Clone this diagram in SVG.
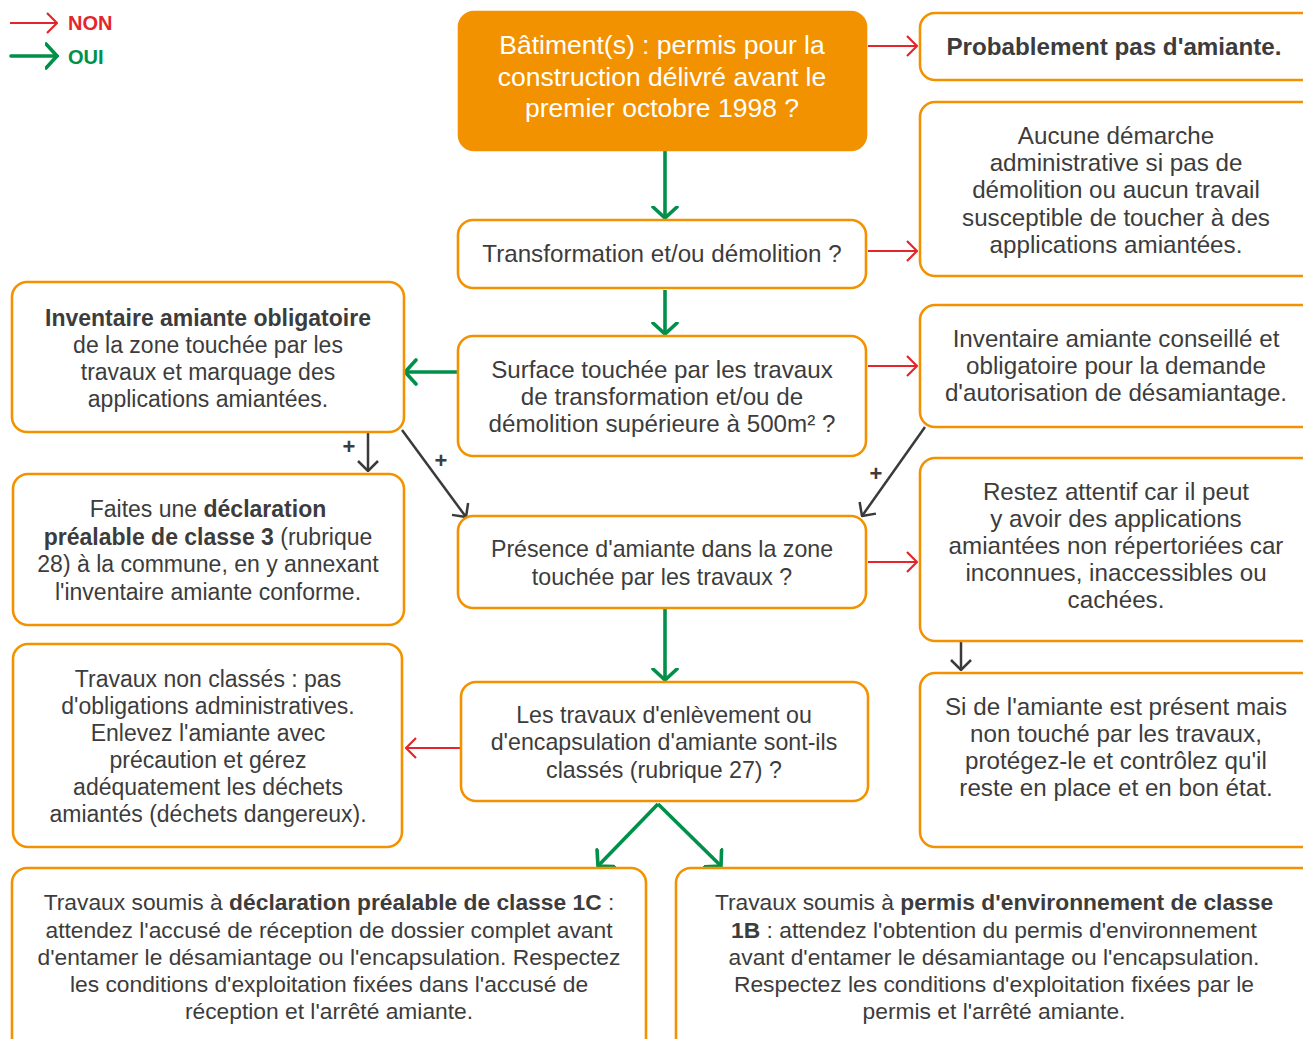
<svg xmlns="http://www.w3.org/2000/svg" width="1303" height="1039" viewBox="0 0 1303 1039">
<defs>
<style>
.box{fill:#fff;stroke:#F39200;stroke-width:2.6}
.fill{fill:#F39200;stroke:#F39200;stroke-width:2.6}
.t{font-family:"Liberation Sans",Arial,sans-serif;font-size:22px;fill:#3c3c3c;text-anchor:middle}
.tw{font-family:"Liberation Sans",Arial,sans-serif;font-size:26.5px;fill:#fff;text-anchor:middle}
.b{font-weight:bold}
.s24 .t{font-size:24.2px}
.s23 .t{font-size:23.2px}
.s23b .t{font-size:23px}
.s22 .t{font-size:22.8px}
.red{stroke:#E3262B;stroke-width:2.2;fill:none}
.green{stroke:#00904A;stroke-width:3.6;fill:none}
.gray{stroke:#3a3a3a;stroke-width:2.5;fill:none}
</style>
<marker id="mr" viewBox="0 0 12 24" refX="11" refY="12" markerWidth="12" markerHeight="24" markerUnits="userSpaceOnUse" orient="auto">
<path d="M1,2 L11,12 L1,22" fill="none" stroke="#E3262B" stroke-width="2.2"/>
</marker>
<marker id="mg" viewBox="0 0 14 28" refX="12.5" refY="14" markerWidth="14" markerHeight="28" markerUnits="userSpaceOnUse" orient="auto">
<path d="M1.5,2 L12.5,14 L1.5,26" fill="none" stroke="#00904A" stroke-width="3.6" stroke-linecap="round"/>
</marker>
<marker id="mk" viewBox="0 0 12 24" refX="11" refY="12" markerWidth="12" markerHeight="24" markerUnits="userSpaceOnUse" orient="auto">
<path d="M1,2 L11,12 L1,22" fill="none" stroke="#3a3a3a" stroke-width="2.5"/>
</marker>
</defs>
<rect width="1303" height="1039" fill="#fff"/>

<g id="legend">
<line class="red" x1="10" y1="23" x2="57" y2="23" marker-end="url(#mr)"/>
<text x="68" y="30" font-family="Liberation Sans,Arial,sans-serif" font-size="20" font-weight="bold" fill="#E3262B">NON</text>
<line class="green" x1="11" y1="56" x2="57" y2="56" marker-end="url(#mg)" stroke-linecap="round"/>
<text x="68" y="64" font-family="Liberation Sans,Arial,sans-serif" font-size="20" font-weight="bold" fill="#00904A">OUI</text>
</g>

<g id="connectors">
<line class="green" x1="665" y1="150" x2="665" y2="218" marker-end="url(#mg)"/>
<line class="green" x1="665" y1="290" x2="665" y2="334" marker-end="url(#mg)"/>
<line class="green" x1="458" y1="372" x2="405" y2="372" marker-end="url(#mg)"/>
<line class="green" x1="665" y1="609" x2="665" y2="680" marker-end="url(#mg)"/>
<line class="green" x1="658" y1="804" x2="598" y2="866" marker-end="url(#mg)"/>
<line class="green" x1="658" y1="804" x2="721" y2="866" marker-end="url(#mg)"/>
<line class="red" x1="868" y1="46" x2="917" y2="46" marker-end="url(#mr)"/>
<line class="red" x1="868" y1="251" x2="917" y2="251" marker-end="url(#mr)"/>
<line class="red" x1="868" y1="366" x2="917" y2="366" marker-end="url(#mr)"/>
<line class="red" x1="868" y1="562" x2="917" y2="562" marker-end="url(#mr)"/>
<line class="red" x1="460" y1="748" x2="406" y2="748" marker-end="url(#mr)"/>
<line class="gray" x1="368" y1="433" x2="368" y2="471" marker-end="url(#mk)"/>
<line class="gray" x1="402" y1="430" x2="466" y2="517" marker-end="url(#mk)"/>
<line class="gray" x1="925" y1="427" x2="862" y2="516" marker-end="url(#mk)"/>
<line class="gray" x1="961" y1="642" x2="961" y2="670" marker-end="url(#mk)"/>
<text class="t b" x="349" y="454" font-size="18">+</text>
<text class="t b" x="441" y="468" font-size="18">+</text>
<text class="t b" x="876" y="481" font-size="18">+</text>
</g>

<g id="n-batiment">
<rect class="fill" x="459" y="12" width="407" height="138" rx="15"/>
<text class="tw" x="662" y="54">Bâtiment(s) : permis pour la</text>
<text class="tw" x="662" y="86">construction délivré avant le</text>
<text class="tw" x="662" y="117">premier octobre 1998 ?</text>
</g>

<g id="n-transformation" class="s24">
<rect class="box" x="458" y="220" width="408" height="68" rx="15"/>
<text class="t" x="662" y="262">Transformation et/ou démolition ?</text>
</g>

<g id="n-surface" class="s24">
<rect class="box" x="458" y="336" width="408" height="120" rx="15"/>
<text class="t" x="662" y="378">Surface touchée par les travaux</text>
<text class="t" x="662" y="405">de transformation et/ou de</text>
<text class="t" x="662" y="432">démolition supérieure à 500m² ?</text>
</g>

<g id="n-presence" class="s23">
<rect class="box" x="458" y="516" width="408" height="92" rx="15"/>
<text class="t" x="662" y="557">Présence d'amiante dans la zone</text>
<text class="t" x="662" y="585">touchée par les travaux ?</text>
</g>

<g id="n-classes" class="s23">
<rect class="box" x="461" y="682" width="407" height="119" rx="15"/>
<text class="t" x="664" y="723">Les travaux d'enlèvement ou</text>
<text class="t" x="664" y="750">d'encapsulation d'amiante sont-ils</text>
<text class="t" x="664" y="778">classés (rubrique 27) ?</text>
</g>

<g id="n-probablement" class="s24">
<rect class="box" x="920" y="13" width="400" height="67" rx="15"/>
<text class="t b" x="1114" y="55">Probablement pas d'amiante.</text>
</g>

<g id="n-aucune" class="s24">
<rect class="box" x="920" y="102" width="400" height="174" rx="15"/>
<text class="t" x="1116" y="144">Aucune démarche</text>
<text class="t" x="1116" y="171">administrative si pas de</text>
<text class="t" x="1116" y="198">démolition ou aucun travail</text>
<text class="t" x="1116" y="226">susceptible de toucher à des</text>
<text class="t" x="1116" y="253">applications amiantées.</text>
</g>

<g id="n-conseille" class="s24">
<rect class="box" x="920" y="305" width="400" height="122" rx="15"/>
<text class="t" x="1116" y="347">Inventaire amiante conseillé et</text>
<text class="t" x="1116" y="374">obligatoire pour la demande</text>
<text class="t" x="1116" y="401">d'autorisation de désamiantage.</text>
</g>

<g id="n-restez" class="s24">
<rect class="box" x="920" y="458" width="400" height="183" rx="15"/>
<text class="t" x="1116" y="500">Restez attentif car il peut</text>
<text class="t" x="1116" y="527">y avoir des applications</text>
<text class="t" x="1116" y="554">amiantées non répertoriées car</text>
<text class="t" x="1116" y="581">inconnues, inaccessibles ou</text>
<text class="t" x="1116" y="608">cachées.</text>
</g>

<g id="n-side" class="s24">
<rect class="box" x="920" y="673" width="400" height="174" rx="15"/>
<text class="t" x="1116" y="715">Si de l'amiante est présent mais</text>
<text class="t" x="1116" y="742">non touché par les travaux,</text>
<text class="t" x="1116" y="769">protégez-le et contrôlez qu'il</text>
<text class="t" x="1116" y="796">reste en place et en bon état.</text>
</g>

<g id="n-inventaire" class="s23b">
<rect class="box" x="12" y="282" width="392" height="150" rx="15"/>
<text class="t b" x="208" y="326">Inventaire amiante obligatoire</text>
<text class="t" x="208" y="353">de la zone touchée par les</text>
<text class="t" x="208" y="380">travaux et marquage des</text>
<text class="t" x="208" y="407">applications amiantées.</text>
</g>

<g id="n-faites" class="s23b">
<rect class="box" x="13" y="474" width="391" height="151" rx="15"/>
<text class="t" x="208" y="517">Faites une <tspan font-weight="bold">déclaration</tspan></text>
<text class="t" x="208" y="545"><tspan font-weight="bold">préalable de classe 3</tspan> (rubrique</text>
<text class="t" x="208" y="572">28) à la commune, en y annexant</text>
<text class="t" x="208" y="600">l'inventaire amiante conforme.</text>
</g>

<g id="n-nonclasses" class="s23b">
<rect class="box" x="13" y="644" width="389" height="203" rx="15"/>
<text class="t" x="208" y="687">Travaux non classés : pas</text>
<text class="t" x="208" y="714">d'obligations administratives.</text>
<text class="t" x="208" y="741">Enlevez l'amiante avec</text>
<text class="t" x="208" y="768">précaution et gérez</text>
<text class="t" x="208" y="795">adéquatement les déchets</text>
<text class="t" x="208" y="822">amiantés (déchets dangereux).</text>
</g>

<g id="n-classe1c" class="s22">
<rect class="box" x="12" y="868" width="634" height="190" rx="15"/>
<text class="t" x="329" y="910">Travaux soumis à <tspan font-weight="bold">déclaration préalable de classe 1C</tspan> :</text>
<text class="t" x="329" y="938">attendez l'accusé de réception de dossier complet avant</text>
<text class="t" x="329" y="965">d'entamer le désamiantage ou l'encapsulation. Respectez</text>
<text class="t" x="329" y="992">les conditions d'exploitation fixées dans l'accusé de</text>
<text class="t" x="329" y="1019">réception et l'arrêté amiante.</text>
</g>

<g id="n-classe1b" class="s22">
<rect class="box" x="676" y="868" width="640" height="190" rx="15"/>
<text class="t" x="994" y="910">Travaux soumis à <tspan font-weight="bold">permis d'environnement de classe</tspan></text>
<text class="t" x="994" y="938"><tspan font-weight="bold">1B</tspan> : attendez l'obtention du permis d'environnement</text>
<text class="t" x="994" y="965">avant d'entamer le désamiantage ou l'encapsulation.</text>
<text class="t" x="994" y="992">Respectez les conditions d'exploitation fixées par le</text>
<text class="t" x="994" y="1019">permis et l'arrêté amiante.</text>
</g>
</svg>
